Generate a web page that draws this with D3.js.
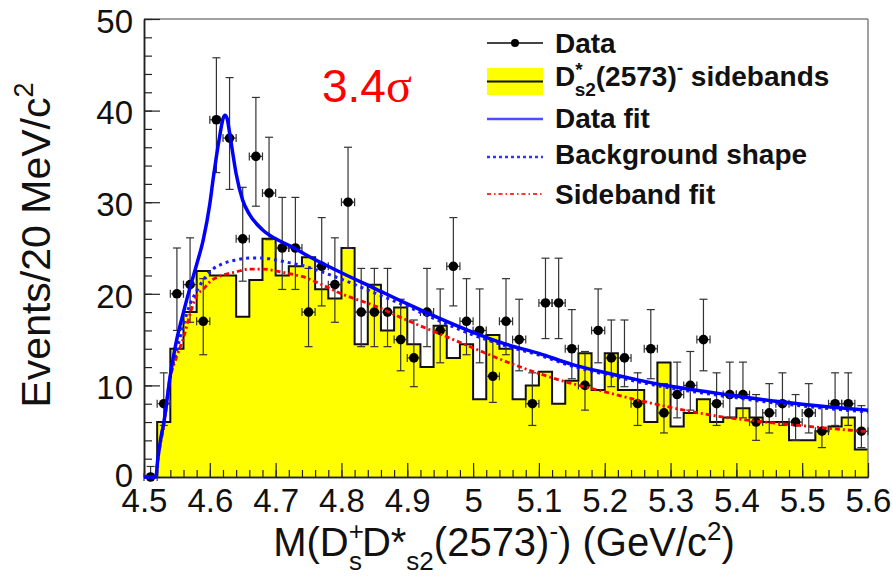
<!DOCTYPE html>
<html>
<head>
<meta charset="utf-8">
<script src="https://cdn.jsdelivr.net/npm/d3@7"></script>
<style>
  body { margin: 0; background: #fff; }
  svg { display: block; font-family: "Liberation Sans", Arial, Helvetica, sans-serif; }
</style>
</head>
<body>
<svg width="893" height="577"></svg>
<script>
// events per 20 MeV bin, 4.50 -> 5.60
var dataCounts = [0, 8, 20, 21, 17, 39, 37, 26, 35, 31,
                  25, 25, 18, 23, 21, 30, 18, 18, 18, 15,
                  13, 18, 16, 23, 17, 16, 11, 17, 15, 8,
                  19, 19, 14, 10, 16, 13, 13, 8, 14, 7,
                  9, 10, 15, 8, 9, 9, 6, 7, 8, 6,
                  7, 5, 8, 8, 5];
var sidebandCounts = [0, 6, 14, 18, 22.5, 22, 22, 17.5, 21.5, 26,
                      22, 23, 24, 20.5, 19.5, 25, 14.5, 21, 16, 18.5,
                      14.5, 12, 16.5, 13, 14.5, 8.5, 15.5, 14, 8.5, 10,
                      11.5, 8, 10.5, 13.5, 9.5, 13.5, 9.5, 9.5, 6, 12.5,
                      5.5, 7, 8.5, 6, 6.5, 7.5, 6.5, 6, 6, 4,
                      4, 5, 5.5, 6.5, 3];

// data fit (signal + background)
var fitMass = [4.50, 4.518, 4.521, 4.525, 4.53, 4.54, 4.55, 4.56, 4.57, 4.58,
               4.59, 4.60, 4.605, 4.61, 4.615, 4.62, 4.623, 4.626, 4.63, 4.635,
               4.64, 4.65, 4.66, 4.68, 4.70, 4.72, 4.75, 4.80, 4.85, 4.90,
               4.95, 5.00, 5.05, 5.10, 5.15, 5.20, 5.25, 5.30, 5.35, 5.40,
               5.45, 5.50, 5.55, 5.60];
var fitValues = [0, 0, 2.0, 4.0, 5.9, 11.1, 15.1, 18.0, 20.7, 23.2,
                 25.9, 29.8, 32.5, 35.0, 37.2, 39.1, 39.5, 39.2, 37.6, 35.3,
                 33.1, 30.2, 28.7, 27.0, 26.0, 25.3, 24.1, 22.3, 20.6, 18.9,
                 17.3, 15.8, 14.5, 13.5, 12.3, 11.4, 10.6, 9.9, 9.35, 8.85,
                 8.35, 7.95, 7.6, 7.3];

// background shape and sideband fit
var bgMass = [4.50, 4.518, 4.521, 4.525, 4.53, 4.54, 4.55, 4.56, 4.57, 4.58,
              4.59, 4.60, 4.62, 4.64, 4.66, 4.68, 4.70, 4.72, 4.74, 4.77,
              4.80, 4.85, 4.90, 4.95, 5.00, 5.05, 5.10, 5.15, 5.20, 5.25,
              5.30, 5.35, 5.40, 5.45, 5.50, 5.55, 5.60];
var bgShape = [0, 0, 2.0, 4.0, 5.9, 11.0, 13.9, 16.6, 18.9, 20.3,
               21.5, 22.4, 23.3, 23.7, 23.9, 23.9, 23.7, 23.4, 23.1, 22.4,
               21.6, 20.1, 18.6, 17.0, 15.5, 14.3, 13.3, 12.1, 11.2, 10.4,
               9.7, 9.15, 8.65, 8.15, 7.75, 7.4, 7.1];
var sbFit = [0, 0, 1.8, 3.6, 5.5, 10.8, 13.2, 15.2, 17.8, 19.8,
             20.5, 21.3, 22.05, 22.4, 22.7, 22.7, 22.5, 22.2, 21.9, 21.0,
             20.0, 18.7, 17.1, 15.6, 14.1, 12.6, 11.3, 10.2, 9.3, 8.4,
             7.6, 6.9, 6.35, 5.95, 5.6, 5.25, 4.95];

var xTicks = [4.5, 4.6, 4.7, 4.8, 4.9, 5.0, 5.1, 5.2, 5.3, 5.4, 5.5, 5.6];
var xTickLabels = ["4.5", "4.6", "4.7", "4.8", "4.9", "5", "5.1", "5.2", "5.3", "5.4", "5.5", "5.6"];
var yTicks = [0, 10, 20, 30, 40, 50];

var binStart = 4.5, binWidth = 0.02;

var svg = d3.select("svg");
var plotLeft = 144, plotRight = 868, plotTop = 19, plotBottom = 477;

var x = d3.scaleLinear().domain([4.5, 5.6]).range([plotLeft, plotRight]);
var y = d3.scaleLinear().domain([0, 50]).range([plotBottom, plotTop]);

var edges = dataCounts.map(function(d, i) { return binStart + i * binWidth; });

// sideband histogram
var histPts = sidebandCounts.map(function(v, i) { return [edges[i], v]; });
histPts.push([5.6, sidebandCounts[sidebandCounts.length - 1]]);

svg.append("path")
  .datum(histPts)
  .attr("fill", "#ffff00")
  .attr("d", d3.area().curve(d3.curveStepAfter)
    .x(function(d) { return x(d[0]); })
    .y0(y(0))
    .y1(function(d) { return y(d[1]); }));

svg.append("path")
  .datum(histPts)
  .attr("fill", "none")
  .attr("stroke", "#111")
  .attr("stroke-width", 2)
  .attr("d", d3.line().curve(d3.curveStepAfter)
    .x(function(d) { return x(d[0]); })
    .y(function(d) { return y(d[1]); }));

// frame
svg.append("line").attr("x1", plotLeft).attr("x2", plotRight).attr("y1", plotTop).attr("y2", plotTop)
  .attr("stroke", "#808080").attr("stroke-width", 1.5);
svg.append("line").attr("x1", plotRight).attr("x2", plotRight).attr("y1", plotTop).attr("y2", plotBottom)
  .attr("stroke", "#808080").attr("stroke-width", 1.5);

// axes
function styleAxis(g) {
  g.select(".domain").attr("stroke", "#222").attr("stroke-width", 1.5);
  g.selectAll(".tick line").attr("stroke", "#222").attr("stroke-width", 1.2);
  g.selectAll("text").attr("font-size", 33).attr("fill", "#111")
    .attr("font-family", "'Liberation Sans', Arial, sans-serif");
}

svg.append("g").attr("transform", "translate(0," + plotBottom + ")")
  .call(d3.axisBottom(x).tickValues(d3.range(0, 56).map(function(i) { return 4.5 + i * 0.02; }))
    .tickSizeInner(-7).tickSizeOuter(0).tickFormat(""))
  .call(styleAxis);
svg.append("g").attr("transform", "translate(0," + plotBottom + ")")
  .call(d3.axisBottom(x).tickValues(xTicks).tickSizeInner(-14).tickSizeOuter(0).tickPadding(12)
    .tickFormat(function(d, i) { return xTickLabels[i]; }))
  .call(styleAxis);

svg.append("g").attr("transform", "translate(" + plotLeft + ",0)")
  .call(d3.axisLeft(y).tickValues(d3.range(0, 51, 2)).tickSizeInner(-8).tickSizeOuter(0).tickFormat(""))
  .call(styleAxis);
svg.append("g").attr("transform", "translate(" + plotLeft + ",0)")
  .call(d3.axisLeft(y).tickValues(yTicks).tickSizeInner(-16).tickSizeOuter(0).tickPadding(11))
  .call(styleAxis)
  .selectAll("text").attr("dy", function(d) { return d === 0 ? "0.3em" : "0.4em"; });

// data points with error bars
var pts = svg.append("g");
dataCounts.forEach(function(n, i) {
  var cx = x(edges[i] + binWidth / 2);
  var lo = n + 0.5 - Math.sqrt(n + 0.25), hi = n + 0.5 + Math.sqrt(n + 0.25);
  if (n === 0) { lo = 0; hi = 1.15; }
  var g = pts.append("g").attr("stroke", "#333").attr("stroke-width", 1.2);
  g.append("line").attr("x1", cx).attr("x2", cx).attr("y1", y(lo)).attr("y2", y(hi));
  g.append("line").attr("x1", cx - 4).attr("x2", cx + 4).attr("y1", y(hi)).attr("y2", y(hi));
  g.append("line").attr("x1", cx - 4).attr("x2", cx + 4).attr("y1", y(lo)).attr("y2", y(lo));
  g.append("line").attr("x1", x(edges[i])).attr("x2", x(edges[i] + binWidth)).attr("y1", y(n)).attr("y2", y(n));
  g.append("line").attr("x1", x(edges[i])).attr("x2", x(edges[i])).attr("y1", y(n) - 4).attr("y2", y(n) + 4);
  g.append("line").attr("x1", x(edges[i] + binWidth)).attr("x2", x(edges[i] + binWidth)).attr("y1", y(n) - 4).attr("y2", y(n) + 4);
  pts.append("circle").attr("cx", cx).attr("cy", y(n)).attr("r", 4.8).attr("fill", "#000");
});

// curves
function curveLine(xs, ys) {
  return d3.line().curve(d3.curveMonotoneX)
    .x(function(d, i) { return x(xs[i]); })
    .y(function(d, i) { return y(ys[i]); })(ys);
}
svg.append("path").attr("d", curveLine(bgMass, sbFit))
  .attr("fill", "none").attr("stroke", "#ff0000").attr("stroke-width", 2.8)
  .attr("stroke-dasharray", "5,3,2,3");
svg.append("path").attr("d", curveLine(bgMass, bgShape))
  .attr("fill", "none").attr("stroke", "#1a1aff").attr("stroke-width", 3)
  .attr("stroke-dasharray", "3,4");
svg.append("path").attr("d", curveLine(fitMass, fitValues))
  .attr("fill", "none").attr("stroke", "#0000ff").attr("stroke-width", 3.5);

// significance
svg.append("text").attr("x", 322).attr("y", 102).attr("fill", "#ff0000").attr("font-size", 46)
  .text("3.4")
  .append("tspan").attr("font-family", "'Liberation Serif', 'DejaVu Serif', serif").attr("font-size", 48).text("σ");

// legend
var lg = svg.append("g").attr("font-weight", "bold").attr("font-size", 28).attr("fill", "#111");
var lx1 = 487, lx2 = 543, tx = 555;
lg.append("line").attr("x1", lx1).attr("x2", lx2).attr("y1", 43).attr("y2", 43).attr("stroke", "#444").attr("stroke-width", 2);
lg.append("circle").attr("cx", (lx1 + lx2) / 2).attr("cy", 43).attr("r", 4).attr("fill", "#000");
lg.append("text").attr("x", tx).attr("y", 53).text("Data");

lg.append("rect").attr("x", lx1).attr("y", 68).attr("width", lx2 - lx1).attr("height", 27).attr("fill", "#ffff00");
lg.append("line").attr("x1", lx1).attr("x2", lx2).attr("y1", 81.5).attr("y2", 81.5).attr("stroke", "#111").attr("stroke-width", 2);
var t2 = lg.append("text").attr("x", tx).attr("y", 86);
t2.append("tspan").text("D");
t2.append("tspan").attr("font-size", 19).attr("dy", -10).text("*");
t2.append("tspan").attr("font-size", 19).attr("dx", -8).attr("dy", 20).text("s2");
t2.append("tspan").attr("dy", -10).text("(2573)");
t2.append("tspan").attr("font-size", 19).attr("dy", -12).text("-");
t2.append("tspan").attr("dy", 12).text(" sidebands");

lg.append("line").attr("x1", lx1).attr("x2", lx2).attr("y1", 119).attr("y2", 119).attr("stroke", "#4d4dff").attr("stroke-width", 2.5);
lg.append("text").attr("x", tx).attr("y", 128).text("Data fit");

lg.append("line").attr("x1", lx1).attr("x2", lx2).attr("y1", 157).attr("y2", 157).attr("stroke", "#3333ff").attr("stroke-width", 2.5).attr("stroke-dasharray", "3,3");
lg.append("text").attr("x", tx).attr("y", 164).text("Background shape");

lg.append("line").attr("x1", lx1).attr("x2", lx2).attr("y1", 194).attr("y2", 194).attr("stroke", "#ff3333").attr("stroke-width", 2).attr("stroke-dasharray", "4,3,1.5,3");
lg.append("text").attr("x", tx).attr("y", 204).text("Sideband fit");

// axis titles
var yt = svg.append("text").attr("transform", "translate(50,245) rotate(-90)")
  .attr("text-anchor", "middle").attr("font-size", 41).attr("fill", "#111");
yt.append("tspan").text("Events/20 MeV/c");
yt.append("tspan").attr("font-size", 27).attr("dy", -17).text("2");

var xt = svg.append("text").attr("x", 504).attr("y", 556)
  .attr("text-anchor", "middle").attr("font-size", 40).attr("fill", "#111");
xt.append("tspan").text("M(D");
xt.append("tspan").attr("font-size", 26).attr("dy", -16).text("+");
xt.append("tspan").attr("font-size", 26).attr("dx", -15).attr("dy", 30).text("s");
xt.append("tspan").attr("dy", -14).text("D*");
xt.append("tspan").attr("font-size", 26).attr("dy", 14).text("s2");
xt.append("tspan").attr("dy", -14).text("(2573)");
xt.append("tspan").attr("font-size", 26).attr("dy", -16).text("-");
xt.append("tspan").attr("dy", 16).text(") (GeV/c");
xt.append("tspan").attr("font-size", 26).attr("dy", -16).text("2");
xt.append("tspan").attr("dy", 16).text(")");
</script>
</body>
</html>
